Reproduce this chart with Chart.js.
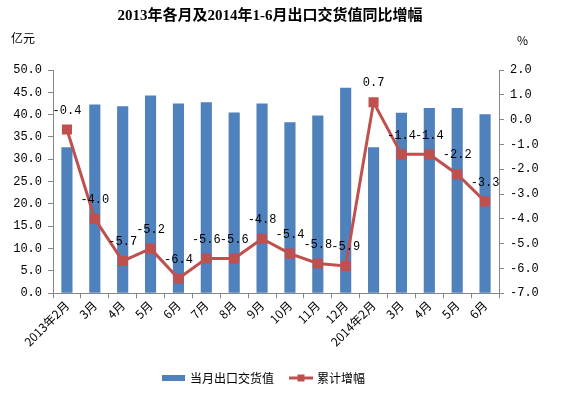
<!DOCTYPE html>
<html>
<head>
<meta charset="utf-8">
<script src="https://cdn.jsdelivr.net/npm/chart.js@4"></script>
<style>
  body { margin: 0; background: #fff; }
  #wrap { width: 571px; height: 397px; }
</style>
</head>
<body>
<div id="wrap"><canvas id="export-chart" width="571" height="397"></canvas></div>
<script>
var months = ['2013年2月', '3月', '4月', '5月', '6月', '7月', '8月', '9月', '10月', '11月', '12月',
              '2014年2月', '3月', '4月', '5月', '6月'];
var exportValue = [32.7, 42.3, 41.9, 44.3, 42.5, 42.8, 40.5, 42.5, 38.3, 39.8, 46.0,
                   32.7, 40.4, 41.5, 41.5, 40.1];
var growth = [-0.4, -4.0, -5.7, -5.2, -6.4, -5.6, -5.6, -4.8, -5.4, -5.8, -5.9,
              0.7, -1.4, -1.4, -2.2, -3.3];

var cjk = '"Noto Sans CJK SC", "DejaVu Sans", sans-serif';
var num = '"Liberation Mono", "DejaVu Sans Mono", monospace';
var blue = '#4F81BD';
var red = '#C0504D';
var axisGrey = '#868686';

// title, unit labels, point labels and legend drawn on top
var decor = {
    id: 'decor',
    afterDatasetsDraw: function (chart) {
        var ctx = chart.ctx;
        ctx.save();
        ctx.fillStyle = '#000';
        ctx.textAlign = 'center';
        ctx.textBaseline = 'middle';
        ctx.font = 'bold 15px "Liberation Serif", ' + cjk;
        ctx.fillText('2013年各月及2014年1-6月出口交货值同比增幅', 270, 16);

        ctx.font = '12px ' + cjk;
        ctx.textAlign = 'left';
        ctx.fillText('亿元', 11, 38);
        ctx.fillText('%', 517, 40);

        // value labels above the line points
        var meta = chart.getDatasetMeta(1);
        ctx.font = '12px ' + num;
        ctx.textAlign = 'center';
        meta.data.forEach(function (pt, i) {
            ctx.fillText(growth[i].toFixed(1), pt.x, pt.y - 19);
        });

        // legend
        var ly = 378;
        ctx.font = '12px ' + cjk;
        ctx.fillStyle = blue;
        ctx.fillRect(162, ly - 3, 23, 6);
        ctx.fillStyle = '#000';
        ctx.textAlign = 'left';
        ctx.fillText('当月出口交货值', 190, ly);
        ctx.strokeStyle = red;
        ctx.lineWidth = 3;
        ctx.beginPath();
        ctx.moveTo(289, ly);
        ctx.lineTo(313, ly);
        ctx.stroke();
        ctx.fillStyle = red;
        ctx.fillRect(297.5, ly - 3.5, 7, 7);
        ctx.fillStyle = '#000';
        ctx.fillText('累计增幅', 317, ly);
        ctx.restore();
    }
};

var ctx = document.getElementById('export-chart').getContext('2d');
var chart = new Chart(ctx, {
    type: 'bar',
    data: {
        labels: months,
        datasets: [{
            type: 'bar',
            label: '当月出口交货值',
            data: exportValue,
            backgroundColor: blue,
            yAxisID: 'y',
            categoryPercentage: 1,
            barPercentage: 0.4,
            order: 2
        }, {
            type: 'line',
            label: '累计增幅',
            data: growth,
            borderColor: red,
            backgroundColor: red,
            borderWidth: 3,
            pointStyle: 'rect',
            pointRadius: 5,
            pointHoverRadius: 5,
            yAxisID: 'y1',
            tension: 0,
            order: 1
        }]
    },
    options: {
        responsive: false,
        animation: false,
        layout: { padding: { top: 70, left: 0, right: 0, bottom: 48 } },
        plugins: {
            legend: { display: false },
            title: { display: false },
            tooltip: { enabled: false }
        },
        scales: {
            x: {
                grid: { drawOnChartArea: false, color: axisGrey, tickLength: 5, offset: true },
                border: { color: axisGrey },
                ticks: {
                    color: '#000',
                    font: { family: cjk, size: 12 },
                    maxRotation: 45,
                    minRotation: 45,
                    autoSkip: false,
                    padding: 0
                }
            },
            y: {
                position: 'left',
                min: 0,
                max: 50,
                grid: { drawOnChartArea: false, color: axisGrey, tickLength: 5 },
                border: { color: axisGrey },
                ticks: {
                    stepSize: 5,
                    color: '#000',
                    font: { family: num, size: 12 },
                    padding: 6,
                    callback: function (v) { return v.toFixed(1); }
                },
                afterFit: function (s) { s.width = 53; }
            },
            y1: {
                position: 'right',
                min: -7,
                max: 2,
                grid: { drawOnChartArea: false, color: axisGrey, tickLength: 5 },
                border: { color: axisGrey },
                ticks: {
                    stepSize: 1,
                    color: '#000',
                    font: { family: num, size: 12 },
                    padding: 6,
                    callback: function (v) { return v.toFixed(1); }
                },
                afterFit: function (s) { s.width = 72; }
            }
        }
    },
    plugins: [decor]
});
</script>
</body>
</html>
